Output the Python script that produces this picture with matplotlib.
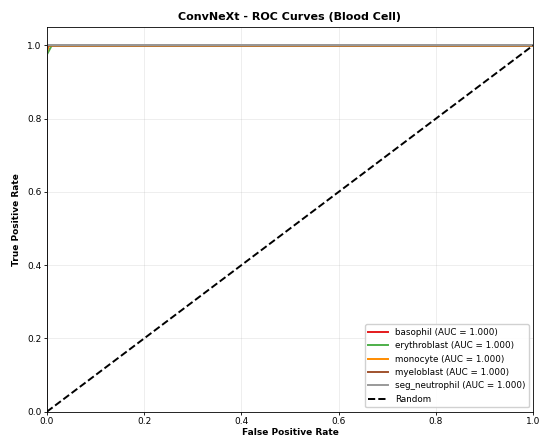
import matplotlib
matplotlib.use('Agg')
import matplotlib.pyplot as plt

# ROC points (all classes near-perfect)
classes = ['basophil', 'erythroblast', 'monocyte', 'myeloblast', 'seg_neutrophil']
aucs = [1.000, 1.000, 1.000, 1.000, 1.000]
fpr_basophil = [0.0, 0.0, 0.0, 0.004, 1.0]
tpr_basophil = [0.0, 0.96, 0.985, 1.0, 1.0]
fpr_erythroblast = [0.0, 0.0, 0.006, 0.01, 1.0]
tpr_erythroblast = [0.0, 0.975, 0.99, 1.0, 1.0]
fpr_monocyte = [0.0, 0.0, 0.003, 1.0]
tpr_monocyte = [0.0, 0.98, 1.0, 1.0]
fpr_myeloblast = [0.0, 0.0, 0.002, 1.0]
tpr_myeloblast = [0.0, 0.99, 1.0, 1.0]
fpr_seg = [0.0, 0.0, 1.0]
tpr_seg = [0.0, 1.0, 1.0]

fprs = [fpr_basophil, fpr_erythroblast, fpr_monocyte, fpr_myeloblast, fpr_seg]
tprs = [tpr_basophil, tpr_erythroblast, tpr_monocyte, tpr_myeloblast, tpr_seg]
colors = ['#e41a1c', '#4daf4a', '#ff8c00', '#a0522d', '#999999']

fig, ax = plt.subplots(figsize=(5.45, 4.38), dpi=100)
for name, auc, f, t, c in zip(classes, aucs, fprs, tprs, colors):
    ax.plot(f, t, color=c, lw=1.4, label=f'{name} (AUC = {auc:.3f})')
ax.plot([0, 1], [0, 1], 'k--', lw=1.4, label='Random')

ax.set_xlim(0, 1)
ax.set_ylim(0, 1.05)
ax.set_xlabel('False Positive Rate', fontsize=6.5, fontweight='bold', labelpad=1)
ax.set_ylabel('True Positive Rate', fontsize=6.5, fontweight='bold', labelpad=4)
ax.set_title('ConvNeXt - ROC Curves (Blood Cell)', fontsize=8, fontweight='bold', pad=5)
ax.tick_params(labelsize=6.5, length=2.5, width=0.6, pad=1.5)
ax.grid(True, alpha=0.3, lw=0.5)
for s in ax.spines.values():
    s.set_linewidth(0.6)
ax.legend(loc='lower right', fontsize=6.3, framealpha=0.9, handlelength=2.2)

plt.subplots_adjust(left=0.086, right=0.978, top=0.938, bottom=0.06)
plt.savefig('out.png', dpi=100)
